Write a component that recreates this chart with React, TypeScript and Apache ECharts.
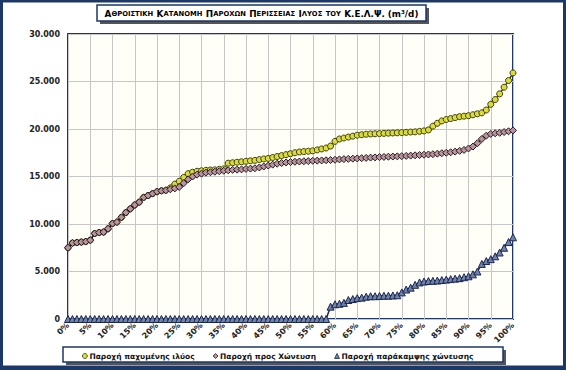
import React, { useEffect, useRef } from "react";
import * as echarts from "echarts";

// x positions (percent of time)
const pct: number[] = Array.from({ length: 101 }, (_, i) => i);

// Παροχή παχυμένης ιλύος (m3/d)
const thickened: number[] = [
  7500, 8000, 8050, 8100, 8150, 8300, 9000, 9100, 9150, 9500,
  10050, 10200, 10700, 11200, 11600, 12000, 12300, 12800, 13000, 13200,
  13400, 13500, 13550, 13800, 14200, 14500, 14900, 15300, 15450, 15550,
  15600, 15650, 15680, 15700, 15750, 15800, 16400, 16450, 16500, 16550,
  16600, 16650, 16700, 16780, 16850, 16900, 17000, 17100, 17200, 17300,
  17400, 17500, 17580, 17620, 17660, 17700, 17800, 17900, 18000, 18200,
  18700, 18950, 19050, 19150, 19250, 19350, 19400, 19450, 19480, 19500,
  19520, 19540, 19560, 19580, 19600, 19620, 19650, 19680, 19700, 19750,
  19800, 19900, 20300, 20600, 20850, 21000, 21100, 21200, 21300, 21350,
  21400, 21500, 21600, 21700, 22000, 22600, 23100, 23700, 24400, 25100,
  25900,
];

// Παροχή προς Χώνευση (m3/d)
const toDigestion: number[] = [
  7500, 8000, 8050, 8100, 8150, 8300, 9000, 9100, 9150, 9500,
  10050, 10200, 10700, 11200, 11600, 12000, 12300, 12800, 13000, 13200,
  13400, 13500, 13550, 13650, 13750, 13900, 14300, 14700, 15000, 15200,
  15300, 15400, 15450, 15500, 15550, 15600, 15650, 15700, 15720, 15750,
  15800, 15830, 15870, 15950, 16050, 16150, 16250, 16350, 16420, 16480,
  16520, 16550, 16580, 16600, 16620, 16650, 16670, 16690, 16710, 16730,
  16760, 16800, 16830, 16860, 16880, 16900, 16930, 16960, 16990, 17010,
  17040, 17060, 17080, 17100, 17120, 17140, 17170, 17200, 17230, 17260,
  17290, 17320, 17350, 17400, 17450, 17500, 17550, 17620, 17700, 17800,
  17950, 18150, 18500, 18950, 19300, 19480, 19550, 19600, 19680, 19760,
  19850,
];

// Παροχή παράκαμψης χώνευσης (m3/d)
const bypass: number[] = [
  0, 0, 0, 0, 0, 0, 0, 0, 0, 0,
  0, 0, 0, 0, 0, 0, 0, 0, 0, 0,
  0, 0, 0, 0, 0, 0, 0, 0, 0, 0,
  0, 0, 0, 0, 0, 0, 0, 0, 0, 0,
  0, 0, 0, 0, 0, 0, 0, 0, 0, 0,
  0, 0, 0, 0, 0, 0, 0, 0, 0, 1300,
  1550, 1600, 1700, 2000, 2100, 2200, 2250, 2350, 2400, 2400,
  2420, 2450, 2450, 2480, 2500, 2800, 3100, 3300, 3600, 3850,
  3950, 4000, 4020, 4050, 4100, 4150, 4200, 4250, 4300, 4400,
  4500, 4700, 5000, 5800, 6100, 6300, 6600, 7000, 7500, 8100,
  8600,
];

const seriesNames = [
  "Παροχή παχυμένης ιλύος",
  "Παροχή προς Χώνευση",
  "Παροχή παράκαμψης χώνευσης",
];
const legendIcons = ["circle", "diamond", "triangle"];

const FONT = "DejaVu Sans";
const NAVY = "#1d3768";

const toPairs = (vals: number[]) => vals.map((v, i) => [pct[i], v]);

export default function App() {
  const ref = useRef<HTMLDivElement>(null);

  useEffect(() => {
    if (!ref.current) return;
    const chart = echarts.init(ref.current, undefined, { renderer: "svg" });

    const big = { fontSize: 8.8, fontWeight: "bold", fontFamily: FONT, color: "#111" };
    const small = { fontSize: 6.8, fontWeight: "bold", fontFamily: FONT, color: "#111" };
    const titleRich =
      "{b|Α}{s|ΘΡΟΙΣΤΙΚΗ} {b|Κ}{s|ΑΤΑΝΟΜΗ} {b|Π}{s|ΑΡΟΧΩΝ} {b|Π}{s|ΕΡΙΣΣΕΙΑΣ} {b|Ι}{s|ΛΥΟΣ} {s|ΤΟΥ} {b|Κ.Ε.Λ.Ψ. (m³/d)}";

    chart.setOption({
      animation: false,
      backgroundColor: "#ffffff",
      grid: {
        left: 68,
        right: 53,
        top: 34,
        bottom: 51,
        show: true,
        backgroundColor: "#fffef7",
        borderColor: NAVY,
        borderWidth: 2,
      },
      xAxis: {
        type: "value",
        min: 0,
        max: 100,
        interval: 5,
        axisLine: { show: false },
        axisTick: { show: false },
        splitLine: { show: true, lineStyle: { color: "#c6c6c6", width: 1 } },
        axisLabel: {
          formatter: "{value}%",
          rotate: 45,
          margin: 5,
          fontSize: 8,
          fontWeight: "bold",
          fontFamily: FONT,
          color: "#222",
        },
      },
      yAxis: {
        type: "value",
        min: 0,
        max: 30000,
        interval: 5000,
        axisLine: { show: false },
        axisTick: { show: false },
        splitLine: { show: true, lineStyle: { color: "#c6c6c6", width: 1 } },
        axisLabel: {
          formatter: (v: number) => (v === 0 ? "0" : `${v / 1000}.000`),
          margin: 8,
          fontSize: 8,
          fontWeight: "bold",
          fontFamily: FONT,
          color: "#222",
        },
      },
      legend: {
        data: seriesNames.map((n, i) => ({ name: n, icon: legendIcons[i] })),
        left: 82,
        top: 352,
        padding: 0,
        itemWidth: 5,
        itemHeight: 5,
        itemGap: 18,
        itemStyle: { borderWidth: 0.8 },
        textStyle: { fontSize: 7.5, fontWeight: "bold", fontFamily: FONT, color: "#111", padding: [1, 0, 0, -3] },
      },
      graphic: [
        // outer frame
        { type: "rect", silent: true, z: 100, shape: { x: 1.5, y: 1, width: 563, height: 366 }, style: { fill: "none", stroke: NAVY, lineWidth: 3 } },
        { type: "rect", silent: true, z: 100, shape: { x: 0, y: 366, width: 566, height: 4 }, style: { fill: NAVY } },
        // title box
        { type: "rect", silent: true, z: 10, shape: { x: 100, y: 8, width: 329, height: 16 }, style: { fill: "#555" } },
        { type: "rect", silent: true, z: 11, shape: { x: 97, y: 5, width: 329, height: 16 }, style: { fill: "#ffffff", stroke: NAVY, lineWidth: 1.5 } },
        {
          type: "text",
          silent: true,
          z: 12,
          x: 261.5,
          y: 13.5,
          style: {
            text: titleRich,
            align: "center",
            verticalAlign: "middle",
            rich: { b: big, s: small },
          },
        },
        // legend box
        { type: "rect", silent: true, z: -1, shape: { x: 66, y: 350, width: 440, height: 15 }, style: { fill: "#555" } },
        { type: "rect", silent: true, z: -1, shape: { x: 63, y: 347, width: 440, height: 15 }, style: { fill: "#ffffff", stroke: NAVY, lineWidth: 1.5 } },
      ],
      series: [
        {
          name: seriesNames[0],
          type: "line",
          data: toPairs(thickened),
          symbol: "circle",
          symbolSize: 6,
          showAllSymbol: true,
          lineStyle: { color: "#3d3d10", width: 1.5 },
          itemStyle: { color: "#d9dc3a", borderColor: "#3d3d10", borderWidth: 1 },
          z: 3,
        },
        {
          name: seriesNames[1],
          type: "line",
          data: toPairs(toDigestion),
          symbol: "diamond",
          symbolSize: 7,
          showAllSymbol: true,
          lineStyle: { color: "#2a1a20", width: 1.5 },
          itemStyle: { color: "#b8949c", borderColor: "#2a1a20", borderWidth: 1 },
          z: 4,
        },
        {
          name: seriesNames[2],
          type: "line",
          data: toPairs(bypass),
          symbol: "triangle",
          symbolSize: 7,
          showAllSymbol: true,
          lineStyle: { color: "#1a2850", width: 1.5 },
          itemStyle: { color: "#7282aa", borderColor: "#1a2850", borderWidth: 1 },
          z: 5,
        },
      ],
    });

    return () => chart.dispose();
  }, []);

  return (
    <div
      ref={ref}
      style={{ position: "fixed", left: 0, top: 0, width: 566, height: 370 }}
    />
  );
}
